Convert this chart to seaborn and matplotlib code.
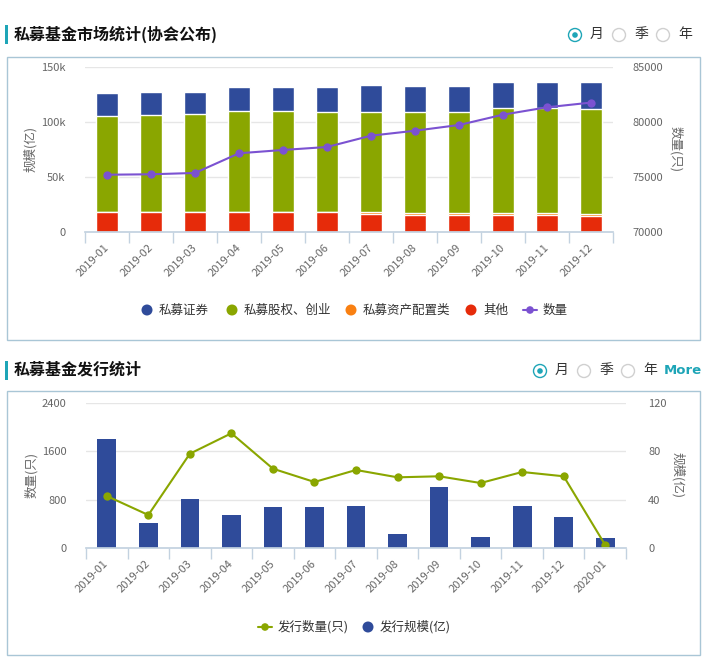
import numpy as np
import pandas as pd
import matplotlib
matplotlib.use('Agg')
import matplotlib.pyplot as plt
import seaborn as sns
from matplotlib.patches import Rectangle, Circle
from matplotlib.lines import Line2D

# ---------------- data ----------------
months_top = ['2019-01', '2019-02', '2019-03', '2019-04', '2019-05', '2019-06',
              '2019-07', '2019-08', '2019-09', '2019-10', '2019-11', '2019-12']
other_amt = [17600, 17600, 17600, 17600, 17600, 17600, 16400, 15500, 15500, 15500, 15500, 14600]
asset_alloc_amt = [0, 0, 0, 0, 0, 0, 1200, 1200, 1200, 1200, 1200, 1200]
equity_amt = [87900, 88200, 89100, 91800, 91800, 90900, 91500, 92400, 92400, 95400, 95400, 96000]
securities_amt = [20600, 21200, 20300, 22100, 22100, 23000, 24300, 23400, 23400, 24000, 24000, 24300]
fund_count = [75180, 75220, 75340, 77130, 77430, 77700, 78730, 79180, 79700, 80640, 81310, 81739]

months_bot = ['2019-01', '2019-02', '2019-03', '2019-04', '2019-05', '2019-06', '2019-07',
              '2019-08', '2019-09', '2019-10', '2019-11', '2019-12', '2020-01']
issue_count = [862, 549, 1559, 1896, 1312, 1093, 1291, 1170, 1187, 1076, 1258, 1187, 54]
issue_scale = [90.0, 20.9, 40.6, 27.4, 34.0, 34.0, 34.9, 11.8, 50.5, 9.3, 34.9, 25.8, 8.5]

# ---------------- style ----------------
sns.set_theme(style='white')
plt.rcParams['font.family'] = ['Noto Sans CJK SC', 'DejaVu Sans']
plt.rcParams['axes.unicode_minus'] = False

BLUE = '#2f4b9a'
GREEN = '#8aa600'
ORANGE = '#f98011'
RED = '#e62b0a'
PURPLE = '#7b52d1'
TEAL = '#1ea5b7'
AXC = '#c3d2e0'
GRIDC = '#e6e6e6'
TXT = '#666666'
BOX = '#a9c6d6'

W, H = 708, 668
fig = plt.figure(figsize=(W / 100, H / 100), dpi=100)
fig.patch.set_facecolor('white')


def frac(l, t, r, b):
    return [l / W, 1 - b / H, (r - l) / W, (b - t) / H]


# overlay for decorations
deco = fig.add_axes([0, 0, 1, 1], zorder=0)
deco.set_xlim(0, W)
deco.set_ylim(H, 0)
deco.axis('off')
deco.patch.set_visible(False)


def header(y, title, more=False, radio_x=568):
    deco.add_patch(Rectangle((5, y - 9), 3, 19, color=TEAL, lw=0))
    deco.text(14, y, title, fontsize=11.5, fontweight='bold', color='#111111',
              va='center', ha='left')
    xs = [radio_x, radio_x + 44, radio_x + 88]
    labels = ['月', '季', '年']
    for i, (x, lab) in enumerate(zip(xs, labels)):
        ec = TEAL if i == 0 else '#d0d0d0'
        deco.add_patch(Circle((x + 7, y + 1), 6.5, fill=False, ec=ec, lw=1))
        if i == 0:
            deco.add_patch(Circle((x + 7, y + 1), 2.8, color=TEAL, lw=0))
        deco.text(x + 22, y, lab, fontsize=10, color='#333333', va='center', ha='left')
    if more:
        deco.text(664, y, 'More', fontsize=9.5, fontweight='bold', color=TEAL,
                  va='center', ha='left', family='DejaVu Sans')


header(34, '私募基金市场统计(协会公布)', radio_x=568)
header(370, '私募基金发行统计', more=True, radio_x=533)
deco.add_patch(Rectangle((7, 57), 693, 283, fill=False, ec=BOX, lw=1))
deco.add_patch(Rectangle((7, 391), 693, 264, fill=False, ec=BOX, lw=1))


def legend_item(x, y, kind, color, text):
    if kind == 'dot':
        deco.add_patch(Circle((x, y), 5.5, color=color, lw=0))
        tx = x + 12
    else:
        deco.add_line(Line2D([x - 7, x + 7], [y, y], color=color, lw=1.5))
        deco.add_patch(Circle((x, y), 3.8, color=color, lw=0))
        tx = x + 13
    deco.text(tx, y, text, fontsize=9, color='#333333', va='center', ha='left')


legend_item(147, 310, 'dot', BLUE, '私募证券')
legend_item(232, 310, 'dot', GREEN, '私募股权、创业')
legend_item(351, 310, 'dot', ORANGE, '私募资产配置类')
legend_item(471, 310, 'dot', RED, '其他')
legend_item(530, 310, 'line', PURPLE, '数量')

legend_item(265, 627, 'line', GREEN, '发行数量(只)')
legend_item(368, 627, 'dot', BLUE, '发行规模(亿)')


def style_xaxis(ax, labels):
    n = len(labels)
    ax.set_xlim(-0.5, n - 0.5)
    ax.set_xticks(range(n))
    ax.set_xticklabels(labels, rotation=45, ha='right', va='center',
                       rotation_mode='anchor', fontsize=8, color=TXT)
    ax.set_xticks(np.arange(-0.5, n, 1.0), minor=True)
    ax.tick_params(axis='x', which='major', length=0, pad=10)
    ax.tick_params(axis='x', which='minor', length=8, color=AXC, width=1, bottom=True)


# ---------------- top chart ----------------
ax1 = fig.add_axes(frac(85, 66.7, 613, 231.7), zorder=1)
ax1.patch.set_visible(False)
df_top = pd.DataFrame({'month': months_top, 'other': other_amt, 'asset': asset_alloc_amt,
                       'equity': equity_amt, 'sec': securities_amt, 'count': fund_count})
c_other = df_top['other']
c_asset = c_other + df_top['asset']
c_equity = c_asset + df_top['equity']
c_total = c_equity + df_top['sec']
for vals, col in [(c_total, BLUE), (c_equity, GREEN), (c_asset, ORANGE), (c_other, RED)]:
    sns.barplot(x=df_top['month'], y=vals, color=col, ax=ax1, width=0.48,
                saturation=1, edgecolor='white', linewidth=1, errorbar=None)
ax1.set_ylim(0, 150000)
ax1.set_yticks([0, 50000, 100000, 150000])
ax1.set_yticklabels(['0', '50k', '100k', '150k'], fontsize=8, color=TXT)
ax1.tick_params(axis='y', length=0, pad=14)
ax1.yaxis.grid(True, color=GRIDC, lw=1)
ax1.set_axisbelow(True)
for s in ['top', 'left', 'right']:
    ax1.spines[s].set_visible(False)
ax1.spines['bottom'].set_color(AXC)
ax1.set_xlabel('')
ax1.set_ylabel('规模(亿)', fontsize=9, color=TXT, labelpad=3)

ax1b = ax1.twinx()
sns.lineplot(x=np.arange(len(months_top)), y=df_top['count'], ax=ax1b, color=PURPLE,
             marker='o', markersize=6, markeredgewidth=0, linewidth=1.5)
ax1b.set_ylim(70000, 85000)
ax1b.set_yticks([70000, 75000, 80000, 85000])
ax1b.set_yticklabels(['70000', '75000', '80000', '85000'], fontsize=8, color=TXT)
ax1b.tick_params(axis='y', length=0, pad=14)
for s in ['top', 'left', 'right', 'bottom']:
    ax1b.spines[s].set_visible(False)
ax1b.set_ylabel('数量(只)', fontsize=9, color=TXT, rotation=270, labelpad=14)
style_xaxis(ax1, months_top)

# ---------------- bottom chart ----------------
ax2 = fig.add_axes(frac(86, 402.7, 626, 548.3), zorder=1)
ax2b = ax2.twinx()
df_bot = pd.DataFrame({'month': months_bot, 'count': issue_count, 'scale': issue_scale})
sns.barplot(x=df_bot['month'], y=df_bot['scale'], color=BLUE, ax=ax2b, width=0.45,
            saturation=1, linewidth=0, errorbar=None)
ax2b.set_ylim(0, 120)
ax2b.set_yticks([0, 40, 80, 120])
ax2b.set_yticklabels(['0', '40', '80', '120'], fontsize=8, color=TXT)
ax2b.tick_params(axis='y', length=0, pad=16)
ax2b.yaxis.grid(True, color=GRIDC, lw=1)
ax2b.set_axisbelow(True)
for s in ['top', 'left', 'right', 'bottom']:
    ax2b.spines[s].set_visible(False)
ax2b.set_ylabel('规模(亿)', fontsize=9, color=TXT, rotation=270, labelpad=13)
ax2b.set_xlabel('')

sns.lineplot(x=np.arange(len(months_bot)), y=df_bot['count'], ax=ax2, color=GREEN,
             marker='o', markersize=6, markeredgewidth=0, linewidth=1.5)
ax2.set_ylim(0, 2400)
ax2.set_yticks([0, 800, 1600, 2400])
ax2.set_yticklabels(['0', '800', '1600', '2400'], fontsize=8, color=TXT)
ax2.tick_params(axis='y', length=0, pad=14)
ax2.set_zorder(ax2b.get_zorder() + 1)
ax2.patch.set_visible(False)
for s in ['top', 'left', 'right']:
    ax2.spines[s].set_visible(False)
ax2.spines['bottom'].set_color(AXC)
ax2.set_xlabel('')
ax2.set_ylabel('数量(只)', fontsize=9, color=TXT, labelpad=3)
style_xaxis(ax2, months_bot)

fig.savefig('out.png', dpi=100, facecolor='white')
